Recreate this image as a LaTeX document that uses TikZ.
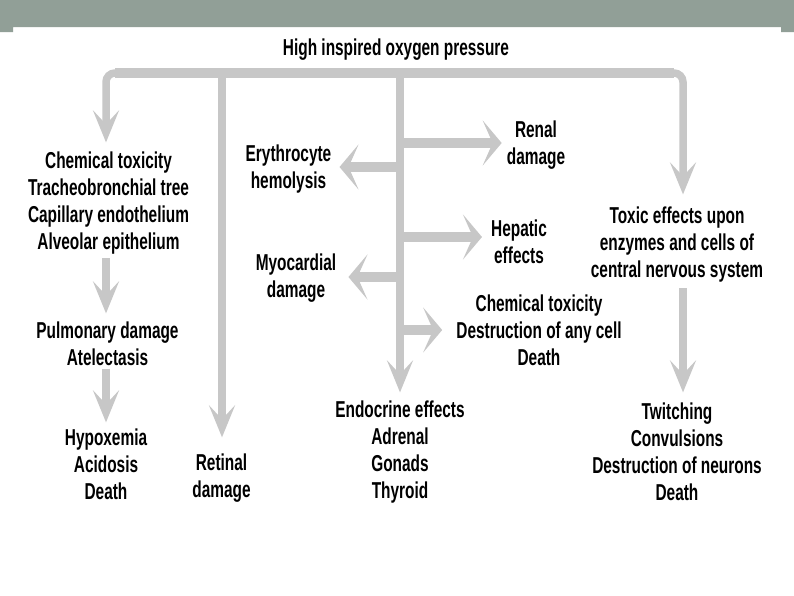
\documentclass[tikz,border=0pt]{standalone}
\usepackage{fontspec}
\setmainfont{Liberation Sans}[FakeStretch=0.67]
\usetikzlibrary{arrows.meta}
\definecolor{band}{RGB}{145,159,151}
\definecolor{arrowgray}{RGB}{199,199,199}
\begin{document}
\begin{tikzpicture}[x=1pt,y=-1pt,
  txt/.style={font=\bfseries\fontsize{23}{27}\selectfont, align=center, inner sep=3pt, text=black},
  vshaft/.style={draw=arrowgray, line width=7.5pt},
  hshaft/.style={draw=arrowgray, line width=10pt},
  vtip/.style={-{Stealth[length=32pt,width=26pt,inset=14pt]}},
  htip/.style={-{Stealth[length=19pt,width=45pt,inset=10pt]}},
]
\fill[white] (0,0) rectangle (794,595);
\useasboundingbox (0,0) rectangle (794,595);
\fill[band] (0,0) -- (794,0) -- (794,32) -- (781,32) -- (781,27) -- (13,27) -- (13,32) -- (0,32) -- cycle;

% text nodes
\node[txt] (title)  at (396,49.3)  {High inspired oxygen pressure};
\node[txt] (chem)   at (108.5,202.8) {Chemical toxicity\\Tracheobronchial tree\\Capillary endothelium\\Alveolar epithelium};
\node[txt] (pulm)   at (107.5,343.5) {Pulmonary damage\\Atelectasis};
\node[txt] (hypo)   at (106,464)   {Hypoxemia\\Acidosis\\Death};
\node[txt] (ret)    at (221.5,477.8) {Retinal\\damage};
\node[txt] (ery)    at (288.5,168.8) {Erythrocyte\\hemolysis};
\node[txt] (myo)    at (296,277.8) {Myocardial\\damage};
\node[txt] (renal)  at (536,144.8) {Renal\\damage};
\node[txt] (hep)    at (519,241.5) {Hepatic\\effects};
\node[txt] (cell)   at (539,330)   {Chemical toxicity\\Destruction of any cell\\Death};
\node[txt] (endo)   at (400,451.8) {Endocrine effects\\Adrenal\\Gonads\\Thyroid};
\node[txt] (tox)    at (677,244.3) {Toxic effects upon\\enzymes and cells of\\central nervous system};
\node[txt] (twitch) at (677,451.5) {Twitching\\Convulsions\\Destruction of neurons\\Death};

% junction coordinates
\coordinate (barL) at (106,73);
\coordinate (barR) at (683,73);
\coordinate (jRet) at (222,73);
\coordinate (jC) at (400,73);
\coordinate (bRenal) at (400,143);
\coordinate (bEry) at (400,167);
\coordinate (bHep) at (400,237);
\coordinate (bMyo) at (400,277);
\coordinate (bCell) at (400,330);

% top bar and its end arrows
\draw[vshaft, rounded corners=9pt, vtip, shorten >=6pt] (jRet) -- (barL) -- (barL |- chem.north);
\draw[vshaft, rounded corners=9pt, vtip, shorten >=9pt] (jC) -- (barR) -- (barR |- tox.north);
\draw[hshaft] ([xshift=9pt]barL) -- ([xshift=-9pt]barR);

% verticals from the bar
\draw[vshaft, vtip, shorten >=13pt] (jRet) -- (jRet |- ret.north);
\draw[vshaft, vtip, shorten >=5pt] (jC) -- (jC |- endo.north);

% branches from the centre line
\draw[hshaft, htip, shorten >=2pt] (bRenal) -- (bRenal -| renal.west);
\draw[hshaft, htip, shorten >=5pt] (bEry) -- (bEry -| ery.east);
\draw[hshaft, htip, shorten >=6pt] (bHep) -- (bHep -| hep.west);
\draw[hshaft, htip, shorten >=9pt] (bMyo) -- (bMyo -| myo.east);
\draw[hshaft, htip, shorten >=11pt] (bCell) -- (bCell -| cell.west);

% left column
\draw[vshaft, vtip, shorten <=1pt, shorten >=5pt] (barL |- chem.south) -- (barL |- pulm.north);
\draw[vshaft, vtip, shorten >=3pt] (barL |- pulm.south) -- (barL |- hypo.north);

% right column
\draw[vshaft, vtip, shorten <=3pt, shorten >=7pt] (barR |- tox.south) -- (barR |- twitch.north);
\end{tikzpicture}
\end{document}
